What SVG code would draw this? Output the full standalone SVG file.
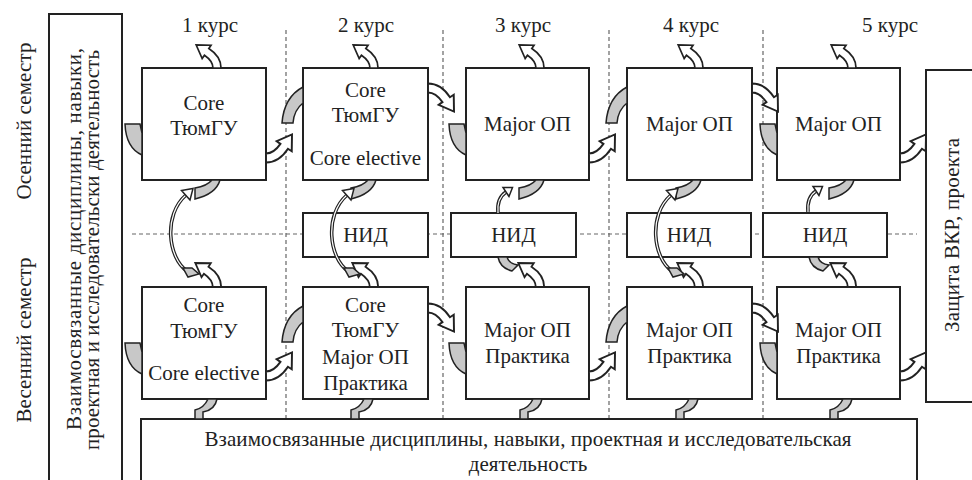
<svg xmlns="http://www.w3.org/2000/svg" width="972" height="480" viewBox="0 0 972 480">
<style>
.box{fill:#fff;stroke:#222;stroke-width:2}
.t,.ts{font-family:'Liberation Serif','Tinos','Times New Roman','DejaVu Serif',serif;font-size:21px;fill:#222}
.t{text-anchor:middle}
.ts{text-anchor:start}
.dash{stroke:#666;stroke-width:1.2;stroke-dasharray:4 3;fill:none}
.wa{fill:#fff;stroke:#222;stroke-width:1.5;stroke-linejoin:miter}
.ga{fill:#c8c8c8;stroke:#222;stroke-width:1.5}
.arcO{fill:none;stroke:#222;stroke-width:3.6}
.arcI{fill:none;stroke:#fff;stroke-width:1.2}
</style>
<defs>
<path id="wa" d="M3.5,0 Q3.5,-10 -7.1,-16.9 L-5.2,-19.8 L-18.1,-20 L-12.9,-8.2 L-10.9,-11.1 Q-3.5,-6 -3.5,0 Z"/>
<path id="gl" d="M-17,0 L-2,0 L0,9 L0,31 Q-16,24 -17,0 Z"/>
<path id="gt" d="M0,0 Q-19,10 -21,36 L-10,36 Q-9,23 0,16 Z"/>
<path id="gb" d="M0,0 Q-4,14 -25,19 L-25,8 Q-13,6 -8,0 Z"/>
<path id="gbb" d="M0,0 Q-2,11 -14,13 L-14,20 L-22,20 L-22,11 Q-13,9 -9,0 Z"/>
<path id="gn" d="M0,0 Q2,11 14,14 L20,8 Q11,7 9,0 Z"/>
<g id="longArc">
<path d="M187,271 C168,258 163,215 186,195" class="arcO"/>
<path d="M187,271 C168,258 163,215 186,195" class="arcI"/>
<polygon points="190,200 181.5,190.5 193,188.5" class="wa"/>
<path d="M183,268 L192,268 L199,274 L188,277 Z" class="ga"/>
</g>
<g id="shortArc">
<path d="M498,213 C497,203 500,196 506,192" class="arcO"/>
<path d="M498,213 C497,203 500,196 506,192" class="arcI"/>
<polygon points="509,196.5 503,187.5 512.5,187.5" class="wa"/>
</g>
</defs>

<rect width="972" height="480" fill="#fff"/>

<g id="labels">
<text class="t" transform="translate(31,121) rotate(-90)" textLength="157" lengthAdjust="spacing">Осенний семестр</text>
<text class="t" transform="translate(31,340) rotate(-90)" textLength="165" lengthAdjust="spacing">Весенний семестр</text>
<text class="t" x="210" y="32">1 курс</text>
<text class="t" x="366" y="32">2 курс</text>
<text class="t" x="523" y="32">3 курс</text>
<text class="t" x="691" y="32">4 курс</text>
<text class="t" x="890" y="32">5 курс</text>
</g>

<g id="grid">
<line class="dash" x1="132" y1="234" x2="917" y2="234"/>
<line class="dash" x1="286" y1="30" x2="286" y2="418"/>
<line class="dash" x1="443" y1="30" x2="443" y2="418"/>
<line class="dash" x1="609" y1="30" x2="609" y2="418"/>
<line class="dash" x1="763" y1="30" x2="763" y2="418"/>
</g>

<g id="leftPanel">
<rect class="box" x="49" y="14" width="73" height="475"/>
<text class="ts" transform="translate(81,430) rotate(-90)" textLength="382" lengthAdjust="spacing">Взаимосвязанные дисциплины, навыки,</text>
<text class="ts" transform="translate(99,450) rotate(-90)" textLength="400" lengthAdjust="spacing">проектная и исследовательски деятельность</text>
</g>

<g id="bottomPanel">
<rect class="box" x="141" y="419" width="776" height="70"/>
<text class="t" x="528" y="446" textLength="647" lengthAdjust="spacing">Взаимосвязанные дисциплины, навыки, проектная и исследовательская</text>
<text class="t" x="528" y="471">деятельность</text>
</g>

<g id="defense">
<rect class="box" x="926" y="70" width="50" height="332"/>
<text class="t" transform="translate(959,235) rotate(-90)" textLength="194" lengthAdjust="spacing">Защита ВКР, проекта</text>
</g>

<g id="a1">
<rect class="box" x="142" y="68" width="124" height="112"/>
<text class="t" x="204" y="110">Core</text>
<text class="t" x="204" y="135">ТюмГУ</text>
</g>
<g id="a2">
<rect class="box" x="303" y="68" width="125" height="112"/>
<text class="t" x="365.5" y="97">Core</text>
<text class="t" x="365.5" y="122">ТюмГУ</text>
<text class="t" x="365.5" y="165">Core elective</text>
</g>
<g id="a3">
<rect class="box" x="466" y="68" width="123" height="112"/>
<text class="t" x="527.5" y="131">Major ОП</text>
</g>
<g id="a4">
<rect class="box" x="627" y="68" width="125" height="112"/>
<text class="t" x="689.5" y="131">Major ОП</text>
</g>
<g id="a5">
<rect class="box" x="777" y="68" width="123" height="112"/>
<text class="t" x="838.5" y="131">Major ОП</text>
</g>

<g id="n2">
<rect class="box" x="303" y="213" width="125" height="44"/>
<text class="t" x="365.5" y="242">НИД</text>
</g>
<g id="n3">
<rect class="box" x="451" y="213" width="125" height="44"/>
<text class="t" x="513.5" y="242">НИД</text>
</g>
<g id="n4">
<rect class="box" x="627" y="213" width="124" height="44"/>
<text class="t" x="689" y="242">НИД</text>
</g>
<g id="n5">
<rect class="box" x="763" y="213" width="124" height="44"/>
<text class="t" x="825" y="242">НИД</text>
</g>

<g id="s1">
<rect class="box" x="142" y="287" width="124" height="112"/>
<text class="t" x="204" y="312">Core</text>
<text class="t" x="204" y="338">ТюмГУ</text>
<text class="t" x="204" y="380">Core elective</text>
</g>
<g id="s2">
<rect class="box" x="303" y="287" width="125" height="112"/>
<text class="t" x="365.5" y="312">Core</text>
<text class="t" x="365.5" y="337">ТюмГУ</text>
<text class="t" x="365.5" y="364">Major ОП</text>
<text class="t" x="365.5" y="390">Практика</text>
</g>
<g id="s3">
<rect class="box" x="466" y="287" width="123" height="112"/>
<text class="t" x="527.5" y="337">Major ОП</text>
<text class="t" x="527.5" y="363">Практика</text>
</g>
<g id="s4">
<rect class="box" x="627" y="287" width="125" height="112"/>
<text class="t" x="689.5" y="337">Major ОП</text>
<text class="t" x="689.5" y="363">Практика</text>
</g>
<g id="s5">
<rect class="box" x="777" y="287" width="123" height="112"/>
<text class="t" x="838.5" y="337">Major ОП</text>
<text class="t" x="838.5" y="363">Практика</text>
</g>

<g id="connectors">
<use href="#wa" class="wa" transform="translate(217,68) scale(1.15)"/>
<use href="#wa" class="wa" transform="translate(374,68) scale(1.15)"/>
<use href="#wa" class="wa" transform="translate(540,68) scale(1.15)"/>
<use href="#wa" class="wa" transform="translate(699,68) scale(1.15)"/>
<use href="#wa" class="wa" transform="translate(852,68) scale(1.15)"/>
<use href="#wa" class="wa" transform="translate(217,287) scale(1.2)"/>
<use href="#wa" class="wa" transform="translate(374,287) scale(1.2)"/>
<use href="#wa" class="wa" transform="translate(540,287) scale(1.2)"/>
<use href="#wa" class="wa" transform="translate(699,287) scale(1.2)"/>
<use href="#wa" class="wa" transform="translate(852,287) scale(1.2)"/>
<use href="#wa" class="wa" transform="matrix(0,1.3,-1.3,0,266,158)"/>
<use href="#wa" class="wa" transform="matrix(0,1.3,-1.3,0,589,158)"/>
<use href="#wa" class="wa" transform="matrix(0,1.3,-1.3,0,900,158)"/>
<use href="#wa" class="wa" transform="matrix(0,1.3,-1.3,0,266,376)"/>
<use href="#wa" class="wa" transform="matrix(0,1.3,-1.3,0,589,376)"/>
<use href="#wa" class="wa" transform="matrix(0,1.3,-1.3,0,900,376)"/>
<use href="#wa" class="wa" transform="matrix(0,-1.3,-1.3,0,428,88)"/>
<use href="#wa" class="wa" transform="matrix(0,-1.3,-1.3,0,752,88)"/>
<use href="#wa" class="wa" transform="matrix(0,-1.3,-1.3,0,428,308)"/>
<use href="#wa" class="wa" transform="matrix(0,-1.3,-1.3,0,752,308)"/>
<use href="#gl" class="ga" transform="translate(142,124)"/>
<use href="#gl" class="ga" transform="translate(466,124)"/>
<use href="#gl" class="ga" transform="translate(777,124)"/>
<use href="#gl" class="ga" transform="translate(142,343)"/>
<use href="#gl" class="ga" transform="translate(466,343)"/>
<use href="#gl" class="ga" transform="translate(777,343)"/>
<use href="#gt" class="ga" transform="translate(303,87)"/>
<use href="#gt" class="ga" transform="translate(627,87)"/>
<use href="#gt" class="ga" transform="translate(303,306)"/>
<use href="#gt" class="ga" transform="translate(627,306)"/>
<use href="#gb" class="ga" transform="translate(220,180)"/>
<use href="#gb" class="ga" transform="translate(376,180)"/>
<use href="#gb" class="ga" transform="translate(544,180)"/>
<use href="#gb" class="ga" transform="translate(701,180)"/>
<use href="#gb" class="ga" transform="translate(854,180)"/>
<use href="#gbb" class="ga" transform="translate(217,399)"/>
<use href="#gbb" class="ga" transform="translate(373,399)"/>
<use href="#gbb" class="ga" transform="translate(542,399)"/>
<use href="#gbb" class="ga" transform="translate(698,399)"/>
<use href="#gbb" class="ga" transform="translate(852,399)"/>
<use href="#gn" class="ga" transform="translate(498,257)"/>
<use href="#gn" class="ga" transform="translate(809,257)"/>
<use href="#longArc"/>
<use href="#longArc" transform="translate(161,0)"/>
<use href="#longArc" transform="translate(485,0)"/>
<use href="#shortArc"/>
<use href="#shortArc" transform="translate(310,-1)"/>
</g>
</svg>
